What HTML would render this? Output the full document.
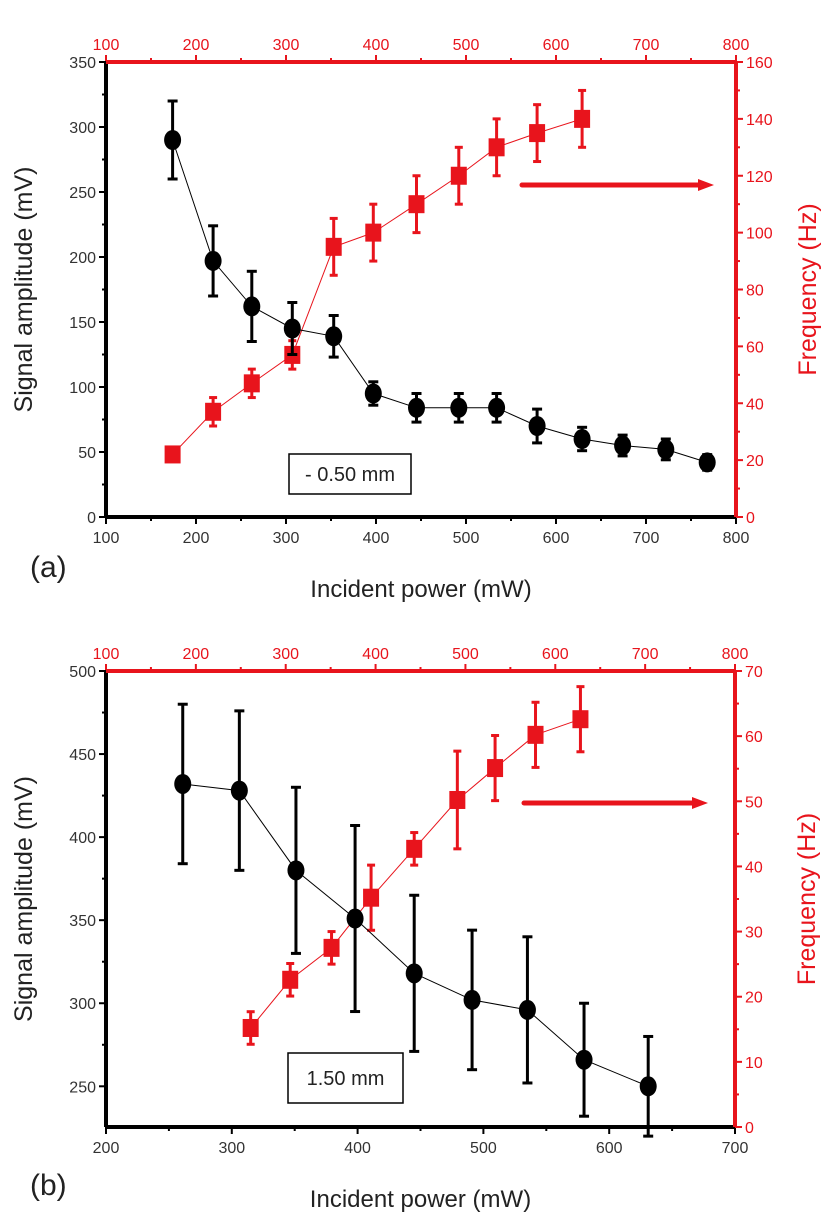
<!DOCTYPE html>
<html><head><meta charset="utf-8"><style>
html,body{margin:0;padding:0;background:#fff;}
svg{display:block;font-family:"Liberation Sans",sans-serif;}
</style></head><body>
<svg id="fig" width="835" height="1228" viewBox="0 0 835 1228" xmlns="http://www.w3.org/2000/svg"></svg>
<script>
// Panel (a) data
const aBlackX = [174,219,262,307,353,397,445,492,534,579,629,674,722,768];
const aBlackY = [290,197,162,145,139,95,84,84,84,70,60,55,52,42];
const aBlackErr = [30,27,27,20,16,9,11,11,11,13,9,8,8,6];
const aRedX = [174,219,262,307,353,397,445,492,534,579,629];
const aRedY = [22,37,47,57,95,100,110,120,130,135,140];
const aRedErr = [1,5,5,5,10,10,10,10,10,10,10];
const aXTicks = [100,200,300,400,500,600,700,800];
const aLTicks = [0,50,100,150,200,250,300,350];
const aRTicks = [0,20,40,60,80,100,120,140,160];
// Panel (b) data
const bBlackX = [261,306,351,398,445,491,535,580,631];
const bBlackY = [432,428,380,351,318,302,296,266,250];
const bBlackErr = [48,48,50,56,47,42,44,34,30];
const bRedX = [261,305,351,395,443,491,533,578,628];
const bRedY = [15.2,22.6,27.5,35.2,42.7,50.2,55.1,60.2,62.6];
const bRedErr = [2.5,2.5,2.5,5,2.5,7.5,5,5,5];
const bXTicks = [200,300,400,500,600,700];
const bTopTicks = [100,200,300,400,500,600,700,800];
const bLTicks = [250,300,350,400,450,500];
const bRTicks = [0,10,20,30,40,50,60,70];

const svg = document.getElementById('fig');
const NS = 'http://www.w3.org/2000/svg';
function el(tag, attrs, parent){
  const e = document.createElementNS(NS, tag);
  for (const k in attrs) e.setAttribute(k, attrs[k]);
  (parent||svg).appendChild(e);
  return e;
}
const RED = '#e8141c';

function panel(P){
  const g = el('g', {});
  
  
  const L=P.L,R=P.R,T=P.T,B=P.B;
  const xb = v => L + (v-P.xmin)/(P.xmax-P.xmin)*(R-L);
  const xt = v => L + (v-P.tmin)/(P.tmax-P.tmin)*(R-L);
  const yl = v => B - (v-P.lmin)/(P.lmax-P.lmin)*(B-T);
  const yr = v => B - (v-P.rmin)/(P.rmax-P.rmin)*(B-T);
  let ln = el('line',{x1:L,y1:B,x2:R,y2:B,stroke:'#000','stroke-width':4},g);
   
  ln = el('line',{x1:L,y1:T,x2:L,y2:B,stroke:'#000','stroke-width':4},g);
   
  ln = el('line',{x1:L,y1:T,x2:R,y2:T,stroke:RED,'stroke-width':4},g);
   
  ln = el('line',{x1:R,y1:T,x2:R,y2:B,stroke:RED,'stroke-width':4},g);
   
  P.xTicks.forEach((v,i)=>{
    const x=xb(v);
    el('line',{x1:x,y1:B,x2:x,y2:B+7,stroke:'#000','stroke-width':2},g);
    if(i<P.xTicks.length-1){const xm=xb(v+(P.xTicks[1]-P.xTicks[0])/2);el('line',{x1:xm,y1:B,x2:xm,y2:B+4,stroke:'#000','stroke-width':2},g);}
    const t=el('text',{x:x,y:B+26,'text-anchor':'middle','font-size':16,fill:'#333'},g);
    t.textContent=v;
     
  });
  P.topTicks.forEach((v,i)=>{
    const x=xt(v);
    el('line',{x1:x,y1:T,x2:x,y2:T-7,stroke:RED,'stroke-width':2},g);
    if(i<P.topTicks.length-1){const xm=xt(v+50);el('line',{x1:xm,y1:T,x2:xm,y2:T-4,stroke:RED,'stroke-width':2},g);}
    const t=el('text',{x:x,y:T-12,'text-anchor':'middle','font-size':16,fill:RED},g);
    t.textContent=v;
     
  });
  P.lTicks.forEach((v,i)=>{
    const y=yl(v);
    el('line',{x1:L,y1:y,x2:L-7,y2:y,stroke:'#000','stroke-width':2},g);
    const step=P.lTicks[1]-P.lTicks[0];
    const ym=yl(v+step/2); if(ym>=T) el('line',{x1:L,y1:ym,x2:L-4,y2:ym,stroke:'#000','stroke-width':2},g);
    const ymm=yl(v-step/2); if(i==0 && ymm<=B) el('line',{x1:L,y1:ymm,x2:L-4,y2:ymm,stroke:'#000','stroke-width':2},g);
    const t=el('text',{x:L-10,y:y+6,'text-anchor':'end','font-size':16,fill:'#333'},g);
    t.textContent=v;
     
  });
  P.rTicks.forEach((v,i)=>{
    const y=yr(v);
    el('line',{x1:R,y1:y,x2:R+7,y2:y,stroke:RED,'stroke-width':2},g);
    const ym=yr(v+(P.rTicks[1]-P.rTicks[0])/2); if(ym>=T) el('line',{x1:R,y1:ym,x2:R+4,y2:ym,stroke:RED,'stroke-width':2},g);
    const t=el('text',{x:R+10,y:y+6,'text-anchor':'start','font-size':16,fill:RED},g);
    t.textContent=v;
     
  });
  let t=el('text',{x:(L+R)/2,y:B+80,'text-anchor':'middle','font-size':24,fill:'#222'},g);
  t.textContent='Incident power  (mW)';
   
  t=el('text',{x:0,y:0,'text-anchor':'middle','font-size':25,fill:'#222',transform:`translate(${L-74},${(T+B)/2}) rotate(-90)`},g);
  t.textContent='Signal amplitude  (mV)';
   
  t=el('text',{x:0,y:0,'text-anchor':'middle','font-size':25,fill:RED,transform:`translate(${R+80},${(T+B)/2}) rotate(-90)`},g);
  t.textContent='Frequency  (Hz)';
   
  t=el('text',{x:30,y:P.labY,'font-size':30,fill:'#222'},g);
  t.textContent=P.label;
   
  let pts=P.rx.map((v,i)=>xt(v)+','+yr(P.ry[i])).join(' ');
  let pl=el('polyline',{points:pts,fill:'none',stroke:RED,'stroke-width':1},g);
   
  P.rx.forEach((v,i)=>{
    const x=xt(v),y=yr(P.ry[i]),e=P.re[i];
    const y1=yr(P.ry[i]+e),y2=yr(P.ry[i]-e);
    el('line',{x1:x,y1:y1,x2:x,y2:y2,stroke:RED,'stroke-width':3},g);
    el('line',{x1:x-4,y1:y1,x2:x+4,y2:y1,stroke:RED,'stroke-width':3},g);
    el('line',{x1:x-4,y1:y2,x2:x+4,y2:y2,stroke:RED,'stroke-width':3},g);
    const r=el('rect',{x:x-8,y:y-9,width:16,height:18,fill:RED},g);
     
  });
  pts=P.bx.map((v,i)=>xb(v)+','+yl(P.by[i])).join(' ');
  pl=el('polyline',{points:pts,fill:'none',stroke:'#000','stroke-width':1},g);
   
  P.bx.forEach((v,i)=>{
    const x=xb(v),y=yl(P.by[i]),e=P.be[i];
    const y1=yl(P.by[i]+e),y2=yl(P.by[i]-e);
    el('line',{x1:x,y1:y1,x2:x,y2:y2,stroke:'#000','stroke-width':3},g);
    el('line',{x1:x-5,y1:y1,x2:x+5,y2:y1,stroke:'#000','stroke-width':3},g);
    el('line',{x1:x-5,y1:y2,x2:x+5,y2:y2,stroke:'#000','stroke-width':3},g);
    const c=el('ellipse',{cx:x,cy:y,rx:8.5,ry:10,fill:'#000'},g);
     
  });
  const ag=el('g',{},g);
   
  el('line',{x1:P.arrow[0],y1:P.arrow[2],x2:P.arrow[1]-14,y2:P.arrow[2],stroke:RED,'stroke-width':5,'stroke-linecap':'round'},ag);
  el('polygon',{points:`${P.arrow[1]-16},${P.arrow[2]-6} ${P.arrow[1]},${P.arrow[2]} ${P.arrow[1]-16},${P.arrow[2]+6}`,fill:RED},ag);
  const bx=el('rect',{x:P.box[0],y:P.box[1],width:P.box[2],height:P.box[3],fill:'#fff',stroke:'#000','stroke-width':1.5},g);
   
  t=el('text',{x:P.box[0]+P.box[2]/2,y:P.box[1]+P.box[3]/2+7,'text-anchor':'middle','font-size':20,fill:'#222'},g);
  t.textContent=P.boxText;
   
}

panel({name:'panel-a',L:106,R:736,T:62,B:517,xmin:100,xmax:800,tmin:100,tmax:800,lmin:0,lmax:350,rmin:0,rmax:160,
  xTicks:aXTicks,topTicks:aXTicks,lTicks:aLTicks,rTicks:aRTicks,
  bx:aBlackX,by:aBlackY,be:aBlackErr,rx:aRedX,ry:aRedY,re:aRedErr,
  arrow:[522,714,185],box:[289,454,122,40],boxText:'- 0.50 mm',label:'(a)',labY:577});
panel({name:'panel-b',L:106,R:735,T:671,B:1127,xmin:200,xmax:700,tmin:100,tmax:800,lmin:225.5,lmax:500,rmin:0,rmax:70,
  xTicks:bXTicks,topTicks:bTopTicks,lTicks:bLTicks,rTicks:bRTicks,
  bx:bBlackX,by:bBlackY,be:bBlackErr,rx:bRedX,ry:bRedY,re:bRedErr,
  arrow:[524,708,803],box:[288,1053,115,50],boxText:'1.50 mm',label:'(b)',labY:1195});
</script>
</body></html>
